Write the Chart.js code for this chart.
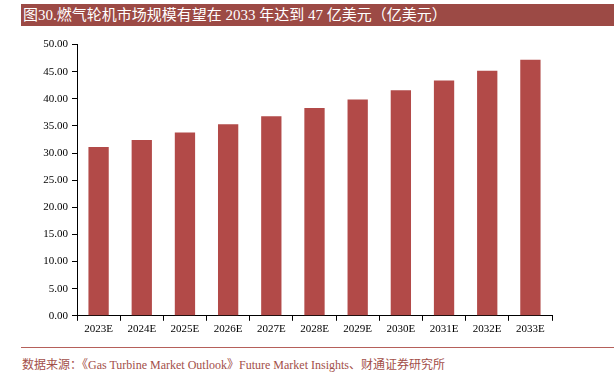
<!DOCTYPE html>
<html>
<head>
<meta charset="utf-8">
<script src="https://cdn.jsdelivr.net/npm/chart.js@4"></script>
<style>
  body { margin: 0; width: 614px; height: 378px; background: #fff; position: relative; overflow: hidden; }
  #title {
    position: absolute; left: 21px; top: 4px; width: 593px; height: 22px;
    background: #9c4a45; color: #fff;
    font: 15px "Liberation Serif", "Noto Sans CJK SC", serif;
    line-height: 22px; padding-left: 2px; box-sizing: border-box; white-space: nowrap;
  }
  #chart-wrap { position: absolute; left: 0; top: 34px; width: 614px; height: 304px; }
  #rule { position: absolute; left: 21px; top: 347px; width: 593px; height: 1px; background: #b5605a; }
  #source {
    position: absolute; left: 22px; top: 355px; color: #a34f49;
    font: 12px "Liberation Serif", "Noto Sans CJK SC", serif; white-space: nowrap;
  }
</style>
</head>
<body>
<div id="title">图30.燃气轮机市场规模有望在 2033 年达到 47 亿美元（亿美元）</div>
<div id="chart-wrap"><canvas id="myChart" width="614" height="304"></canvas></div>
<div id="rule"></div>
<div id="source">数据来源：《Gas Turbine Market Outlook》Future Market Insights、财通证券研究所</div>
<script>
//Data
const years = ["2023E", "2024E", "2025E", "2026E", "2027E", "2028E", "2029E", "2030E", "2031E", "2032E", "2033E"];
const marketSize = [31.1, 32.4, 33.8, 35.3, 36.8, 38.3, 39.9, 41.6, 43.4, 45.2, 47.2];
const yTicks = [0, 5, 10, 15, 20, 25, 30, 35, 40, 45, 50];

const tickFont = { family: "'Liberation Serif', serif", size: 11 };

const config = {
  type: 'bar',
  data: {
    labels: years,
    datasets: [{
      data: marketSize,
      backgroundColor: '#b24a48',
      borderWidth: 0,
      categoryPercentage: 1,
      barPercentage: 0.47
    }]
  },
  options: {
    responsive: false,
    animation: false,
    layout: { padding: { top: 3, right: 62, bottom: 0, left: 0 } },
    plugins: { legend: { display: false }, tooltip: { enabled: false } },
    scales: {
      x: {
        grid: { display: true, drawOnChartArea: false, offset: true, tickLength: 5, color: '#000' },
        border: { color: '#000', width: 1 },
        ticks: { color: '#000', font: tickFont, padding: 2, maxRotation: 0 }
      },
      y: {
        min: 0,
        max: 50,
        afterBuildTicks: axis => { axis.ticks = yTicks.map(v => ({ value: v })); },
        afterFit: axis => { axis.width = 77; },
        grid: { display: true, drawOnChartArea: false, tickLength: 5, color: '#000' },
        border: { color: '#000', width: 1 },
        ticks: { color: '#000', font: tickFont, padding: 4, callback: v => v.toFixed(2) }
      }
    }
  }
};

const myChart = new Chart(document.getElementById('myChart'), config);
</script>
</body>
</html>
